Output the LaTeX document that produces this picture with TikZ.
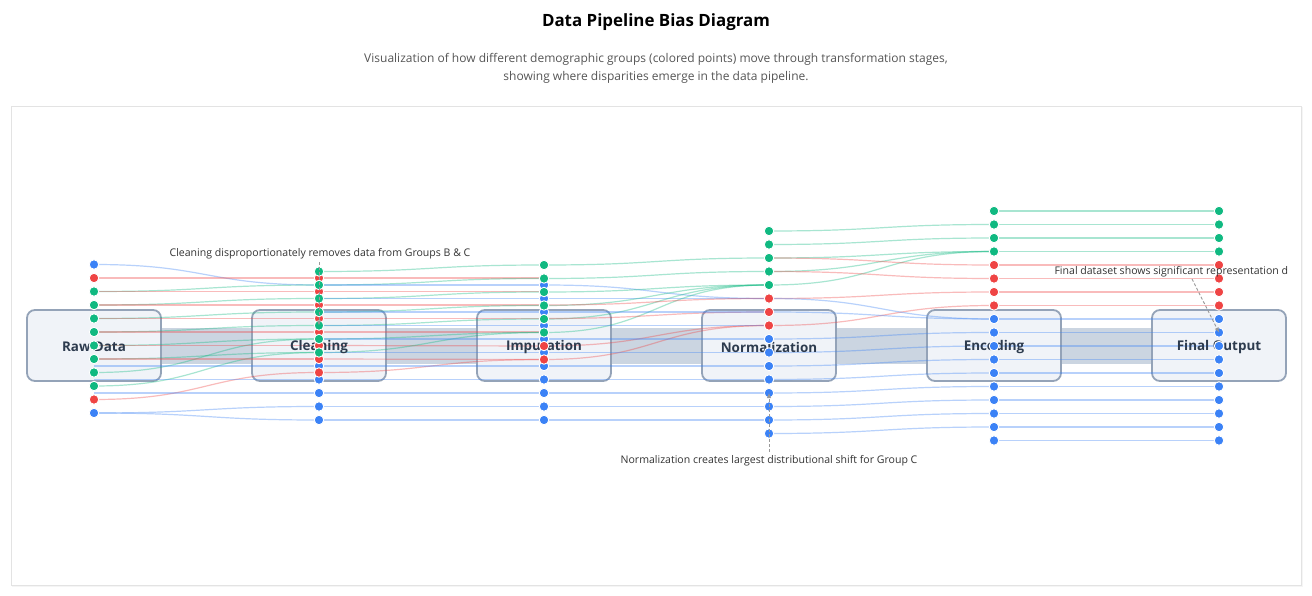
\documentclass[tikz,border=0pt]{standalone}
\usepackage{fontspec}
\setmainfont{Open Sans}
\usetikzlibrary{arrows.meta}
\definecolor{gA}{HTML}{3B82F6}
\definecolor{gB}{HTML}{EF4444}
\definecolor{gC}{HTML}{10B981}
\definecolor{boxfill}{HTML}{F0F3F8}
\definecolor{boxline}{HTML}{94A3B8}
\definecolor{bandfill}{HTML}{CBD5E1}
\definecolor{lbl}{HTML}{2D3B4E}
\definecolor{panelline}{HTML}{E3E3E3}
\definecolor{subtxt}{HTML}{555555}
\definecolor{annot}{HTML}{333333}
\definecolor{annline}{HTML}{999999}
\newcommand\lnk[4]{\draw[flow,draw=#4] (#1,#2) .. controls (#1+112.5,#2) and (#1+112.5,#3) .. (#1+225,#3);}
\begin{document}
\begin{tikzpicture}[x=1pt,y=-1pt,
 flow/.style={line width=1.2pt, draw opacity=0.36},
 stagebox/.style={draw=boxline, line width=1.8pt, fill=boxfill, rounded corners=8pt, minimum width=134pt, minimum height=71pt, inner sep=0},
 stagelabel/.style={font=\bfseries\fontsize{13.4}{16}\selectfont, text=lbl},
 dot/.style={circle, inner sep=0, minimum size=9.5pt, draw=white, line width=0.9pt},
 annottext/.style={font=\fontsize{10.55}{12}\selectfont, text=annot},
 annarrow/.style={draw=annline, line width=0.9pt, dash pattern=on 3pt off 2pt, -{Latex[length=5pt,width=4.5pt]}},
]
\useasboundingbox (0,0) rectangle (1312,596);
% panel
\fill[black!4] (12,107.5) rectangle (1302.5,587);
\draw[panelline, fill=white] (11,106) rectangle (1301,585);
% title
\node[font=\bfseries\fontsize{16.9}{20}\selectfont] (title) at (656,22) {Data Pipeline Bias Diagram};
\node[font=\fontsize{12}{18}\selectfont, text=subtxt, align=center] (sub) at (656,68) {Visualization of how different demographic groups (colored points) move through transformation stages,\\showing where disparities emerge in the data pipeline.};
% bands
\foreach \x in {94,319,544,769,994} \fill[bandfill] (\x+67,328) rectangle (\x+158,364);
% boxes
\foreach \x/\n in {94/s1,319/s2,544/s3,769/s4,994/s5,1219/s6} \node[stagebox] (\n) at (\x,345.5) {};
% links gap 1
\lnk{94}{264.5}{285}{gA}
\lnk{94}{278}{278}{gB}
\lnk{94}{291.5}{285}{gC}
\lnk{94}{305}{298.5}{gC}
\lnk{94}{318.5}{312}{gC}
\lnk{94}{332}{325.5}{gC}
\lnk{94}{345.5}{339}{gC}
\lnk{94}{359}{352.5}{gC}
\lnk{94}{372.5}{339}{gC}
\lnk{94}{386}{352.5}{gC}
\lnk{94}{399.5}{372.5}{gB}
\lnk{94}{413}{406.5}{gA}
\lnk{94}{413}{420}{gA}
\foreach \y in {291.5,305,318.5,332,345.5,359} {\lnk{94}{\y}{\y}{gB}}
\foreach \y in {366,379.5,393} {\lnk{94}{\y}{\y}{gA}}
% links gap 2
\lnk{319}{271.5}{265}{gC}
\lnk{319}{278}{278}{gB}
\lnk{319}{285}{278.5}{gC}
\lnk{319}{291.5}{291.5}{gB}
\lnk{319}{298.5}{292}{gC}
\lnk{319}{305}{305}{gB}
\lnk{319}{312}{305.5}{gC}
\lnk{319}{318.5}{318.5}{gB}
\lnk{319}{325.5}{319}{gC}
\lnk{319}{332}{332}{gB}
\lnk{319}{339}{332.5}{gC}
\lnk{319}{345.5}{346}{gB}
\lnk{319}{352.5}{332.5}{gC}
\lnk{319}{359}{359.5}{gB}
\lnk{319}{372.5}{359.5}{gB}
\foreach \y in {285,298.5,312,325.5,339,352.5,366,379.5,393,406.5,420} {\lnk{319}{\y}{\y}{gA}}
% links gap 3
\lnk{544}{265}{258}{gC}
\lnk{544}{278.5}{271.5}{gC}
\lnk{544}{285}{298.5}{gA}
\lnk{544}{292}{285}{gC}
\lnk{544}{298.5}{298.5}{gA}
\lnk{544}{305.5}{285}{gC}
\lnk{544}{319}{285}{gC}
\lnk{544}{332.5}{285}{gC}
\lnk{544}{318.5}{312}{gB}
\lnk{544}{305}{298.5}{gB}
\lnk{544}{346}{325.5}{gB}
\lnk{544}{359.5}{325.5}{gB}
\foreach \y in {312,325.5,339,352.5,366,379.5,393,406.5,420} {\lnk{544}{\y}{\y}{gA}}
% links gap 4
\lnk{769}{231}{224.5}{gC}
\lnk{769}{244.5}{238}{gC}
\lnk{769}{258}{251.5}{gC}
\lnk{769}{271.5}{251.5}{gC}
\lnk{769}{285}{251.5}{gC}
\lnk{769}{258}{265}{gB}
\lnk{769}{271.5}{278.5}{gB}
\lnk{769}{298.5}{292}{gB}
\lnk{769}{325.5}{305.5}{gB}
\lnk{769}{298.5}{319}{gA}
\lnk{769}{312}{319}{gA}
\foreach \k in {0,...,7} {\lnk{769}{339+13.5*\k}{332.5+13.5*\k}{gA}}
% links gap 5
\foreach \k in {0,...,3} {\lnk{994}{211+13.5*\k}{211+13.5*\k}{gC}}
\foreach \k in {4,...,7} {\lnk{994}{211+13.5*\k}{211+13.5*\k}{gB}}
\foreach \k in {8,...,17} {\lnk{994}{211+13.5*\k}{211+13.5*\k}{gA}}
% labels
\foreach \x/\n/\t in {94/l1/Raw Data,319/l2/Cleaning,544/l3/Imputation,769/l4/Normalization,994/l5/Encoding,1219/l6/Final Output} \node[stagelabel] (\n) at (\x,347) {\t};
% points column 1
\foreach \c [count=\k from 0] in {gA,gB,gC,gC,gC,gC,gC,gC,gC,gC,gB,gA} \node[dot,fill=\c] (a\k) at (94,264.5+13.5*\k) {};
% column 2
\foreach \y [count=\k] in {366,379.5,393,406.5,420} \node[dot,fill=gA] (bA\k) at (319,\y) {};
\foreach \k in {0,...,7} \node[dot,fill=gB] (bB\k) at (319,278+13.5*\k) {};
\foreach \k in {0,...,6} \node[dot,fill=gC] (bC\k) at (319,271.5+13.5*\k) {};
% column 3
\foreach \k in {0,...,10} \node[dot,fill=gA] (cA\k) at (544,285+13.5*\k) {};
\foreach \y [count=\k] in {346,359.5} \node[dot,fill=gB] (cB\k) at (544,\y) {};
\foreach \k in {0,...,5} \node[dot,fill=gC] (cC\k) at (544,265+13.5*\k) {};
% column 4
\foreach \c [count=\k from 0] in {gC,gC,gC,gC,gC,gB,gB,gB,gA,gA,gA,gA,gA,gA,gA,gA} \node[dot,fill=\c] (d\k) at (769,231+13.5*\k) {};
% columns 5 and 6
\foreach \c [count=\k from 0] in {gC,gC,gC,gC,gB,gB,gB,gB,gA,gA,gA,gA,gA,gA,gA,gA,gA,gA} {
  \node[dot,fill=\c] (e\k) at (994,211+13.5*\k) {};
  \node[dot,fill=\c] (f\k) at (1219,211+13.5*\k) {};
}
% annotations
\node[annottext] (n1) at (320,253.5) {Cleaning disproportionately removes data from Groups B \& C};
\draw[annarrow] (n1.south -| bC4) -- (bC4.center);
\node[annottext] (n2) at (769,460.5) {Normalization creates largest distributional shift for Group C};
\draw[annarrow] (n2.north) -- (d12.center);
\node[annottext, anchor=west] (n3) at (1051,271.5) {Final dataset shows significant representation d};
\coordinate (n3t) at (1192,279);
\draw[annarrow] (n3t) -- (f9.center);
\end{tikzpicture}
\end{document}
